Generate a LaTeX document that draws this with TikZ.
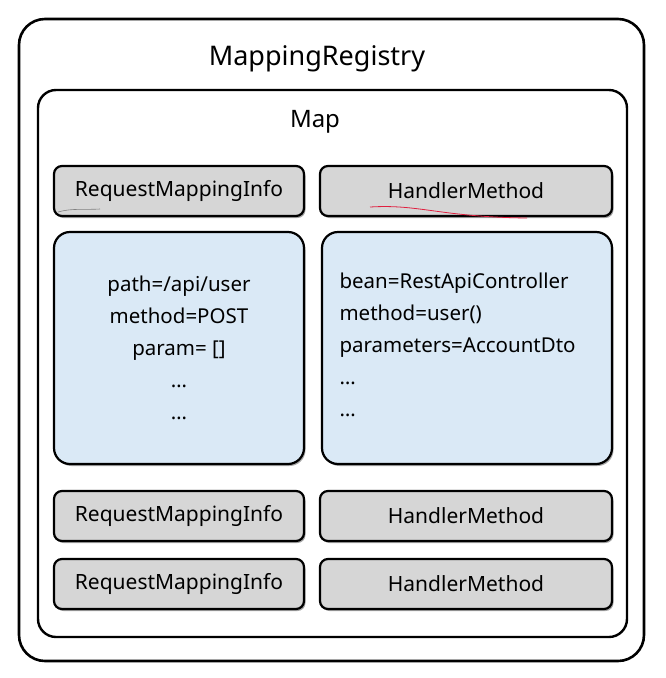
\documentclass[tikz,border=0pt]{standalone}
\usepackage{fontspec}
\setmainfont{Noto Sans}
\usetikzlibrary{shadows}

\definecolor{infogray}{HTML}{D6D6D6}
\definecolor{detailblue}{HTML}{DAE9F6}
\definecolor{spellred}{HTML}{E02040}

\tikzset{
    boxshadow/.style={drop shadow={shadow xshift=1.5pt, shadow yshift=-2pt, opacity=0.35, fill=black}},
    keybox/.style={draw, line width=2.2pt, rounded corners=8pt, fill=infogray,
        minimum height=50pt, inner sep=0pt, boxshadow, font=\fontsize{21}{24}\selectfont},
    detailbox/.style={draw, line width=2.2pt, rounded corners=16pt, fill=detailblue,
        minimum height=232pt, inner sep=0pt, boxshadow, font=\fontsize{20.5}{32}\selectfont},
}

\begin{document}
\begin{tikzpicture}[x=1pt,y=-1pt]

\useasboundingbox (0,0) rectangle (665,678);

% containers
\draw[line width=2.6pt, rounded corners=26pt] (19,19) rectangle (644,661);
\draw[line width=2.4pt, rounded corners=18pt] (38,90) rectangle (627,637);

\node[font=\fontsize{27}{30}\selectfont] (registry) at (317,59) {MappingRegistry};
\node[font=\fontsize{24}{26}\selectfont] (map) at (315,122) {Map};

% first entry
\node[keybox, minimum width=250pt] (info1) at (179,191) {RequestMappingInfo};
\node[keybox, minimum width=292pt] (handler1) at (466,191) {HandlerMethod};

\node[detailbox, minimum width=250pt, align=center] (infodetail) at (179,348)
    {path=/api/user\\ method=POST\\ param= []\\ …\\ …};
\node[detailbox, minimum width=290pt] (handlerdetail) at (467,348) {};
\node[font=\fontsize{20.5}{32}\selectfont, align=left, anchor=west] (handlertext) at (336,345)
    {bean=RestApiController\\ method=user()\\ parameters=AccountDto\\ …\\ …};

% other entries
\node[keybox, minimum width=250pt] (info2) at (179,516) {RequestMappingInfo};
\node[keybox, minimum width=292pt] (handler2) at (466,516) {HandlerMethod};
\node[keybox, minimum width=250pt] (info3) at (179,584) {RequestMappingInfo};
\node[keybox, minimum width=292pt] (handler3) at (466,584) {HandlerMethod};

% spell check marks
\draw[gray, line width=0.6pt] (58,212) .. controls (72,208) and (84,210) .. (100,209);
\draw[spellred, line width=0.8pt] (370,207) .. controls (420,204) and (440,217) .. (527,218);

\end{tikzpicture}
\end{document}
